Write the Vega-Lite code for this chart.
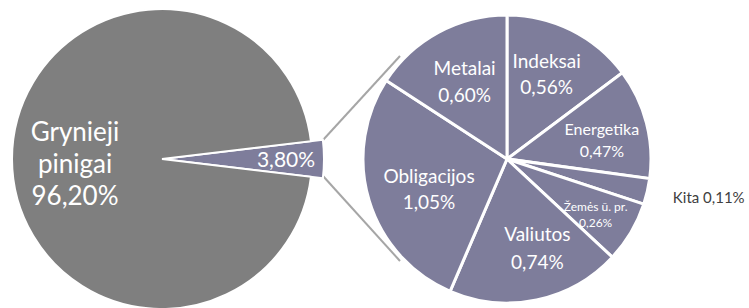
{
  "$schema": "https://vega.github.io/schema/vega-lite/v6.json",
  "width": 749,
  "height": 308,
  "autosize": {"type": "none"},
  "padding": 0,
  "background": "#ffffff",
  "config": {"view": {"stroke": null}, "font": "Lato"},
  "resolve": {"scale": {"x": "independent", "y": "independent", "theta": "independent"}},
  "layer": [
    {
      "data": {"values": [
        {"linija": "viršutinė", "x": 323, "y": 140},
        {"linija": "viršutinė", "x": 400, "y": 56},
        {"linija": "apatinė", "x": 323, "y": 176},
        {"linija": "apatinė", "x": 400, "y": 261}
      ]},
      "mark": {"type": "line", "color": "#a6a6a6", "strokeWidth": 2},
      "encoding": {
        "x": {"field": "x", "type": "quantitative", "scale": {"domain": [0, 749], "nice": false, "zero": false}, "axis": null},
        "y": {"field": "y", "type": "quantitative", "scale": {"domain": [0, 308], "nice": false, "zero": false, "reverse": true}, "axis": null},
        "detail": {"field": "linija"}
      }
    },
    {
      "data": {"values": [
        {"diagrama": "Visas portfelis", "kategorija": "Kita", "reiksme": 3.80, "tekstas": "3,80%", "eile": 1},
        {"diagrama": "Visas portfelis", "kategorija": "Grynieji pinigai", "reiksme": 96.20, "tekstas": "Grynieji\npinigai\n96,20%", "eile": 2}
      ]},
      "encoding": {
        "x": {"field": "diagrama", "type": "nominal", "scale": {"type": "point", "domain": ["Visas portfelis", "Kita"], "range": [162, 507], "padding": 0}, "axis": null},
        "y": {"field": "diagrama", "type": "nominal", "scale": {"type": "point", "domain": ["Visas portfelis", "Kita"], "range": [159, 159], "padding": 0}, "axis": null},
        "theta": {"field": "reiksme", "type": "quantitative", "stack": true, "scale": {"domain": [0, 100], "range": [1.4514, 7.7346]}},
        "order": {"field": "eile"},
        "detail": {"field": "kategorija"}
      },
      "layer": [
        {
          "mark": {"type": "arc", "outerRadius": 162, "fill": "#7e7d9b", "stroke": "#ffffff", "strokeWidth": 2},
          "encoding": {"opacity": {"condition": {"test": "datum.kategorija === 'Kita'", "value": 1}, "value": 0}}
        },
        {
          "mark": {"type": "arc", "outerRadius": 150, "fill": "#7f7f7f", "stroke": "#ffffff", "strokeWidth": 2},
          "encoding": {"opacity": {"condition": {"test": "datum.kategorija === 'Grynieji pinigai'", "value": 1}, "value": 0}}
        },
        {
          "mark": {"type": "text", "radius": 87, "fontSize": 26, "lineHeight": 32, "lineBreak": "\n", "color": "#ffffff", "align": "center", "baseline": "middle", "dy": -26},
          "encoding": {"text": {"condition": {"test": "datum.kategorija === 'Grynieji pinigai'", "field": "tekstas", "type": "nominal"}, "value": ""}}
        },
        {
          "mark": {"type": "text", "radius": 124, "fontSize": 21, "color": "#ffffff", "align": "center", "baseline": "middle", "dy": 2},
          "encoding": {"text": {"condition": {"test": "datum.kategorija === 'Kita'", "field": "tekstas", "type": "nominal"}, "value": ""}}
        }
      ]
    },
    {
      "data": {"values": [
        {"diagrama": "Kita", "kategorija": "Indeksai", "reiksme": 0.56, "tekstas": "Indeksai\n0,56%", "eile": 1},
        {"diagrama": "Kita", "kategorija": "Energetika", "reiksme": 0.47, "tekstas": "Energetika\n0,47%", "eile": 2},
        {"diagrama": "Kita", "kategorija": "Kita", "reiksme": 0.11, "tekstas": "Kita 0,11%", "eile": 3},
        {"diagrama": "Kita", "kategorija": "Žemės ū. pr.", "reiksme": 0.26, "tekstas": "Žemės ū. pr.\n0,26%", "eile": 4},
        {"diagrama": "Kita", "kategorija": "Valiutos", "reiksme": 0.74, "tekstas": "Valiutos\n0,74%", "eile": 5},
        {"diagrama": "Kita", "kategorija": "Obligacijos", "reiksme": 1.05, "tekstas": "Obligacijos\n1,05%", "eile": 6},
        {"diagrama": "Kita", "kategorija": "Metalai", "reiksme": 0.60, "tekstas": "Metalai\n0,60%", "eile": 7}
      ]},
      "encoding": {
        "x": {"field": "diagrama", "type": "nominal", "scale": {"type": "point", "domain": ["Visas portfelis", "Kita"], "range": [162, 507], "padding": 0}, "axis": null},
        "y": {"field": "diagrama", "type": "nominal", "scale": {"type": "point", "domain": ["Visas portfelis", "Kita"], "range": [159, 159], "padding": 0}, "axis": null},
        "theta": {"field": "reiksme", "type": "quantitative", "stack": true, "scale": {"domain": [0, 3.79], "range": [0, 6.28319]}},
        "order": {"field": "eile"},
        "detail": {"field": "kategorija"}
      },
      "layer": [
        {
          "mark": {"type": "arc", "outerRadius": 144, "fill": "#7e7d9b", "stroke": "#ffffff", "strokeWidth": 3}
        },
        {
          "mark": {"type": "text", "radius": 93, "fontSize": 19, "lineHeight": 27, "lineBreak": "\n", "color": "#ffffff", "align": "center", "baseline": "middle", "dx": 2, "dy": -8},
          "encoding": {"text": {"condition": {"test": "datum.kategorija === 'Metalai'", "field": "tekstas", "type": "nominal"}, "value": ""}}
        },
        {
          "mark": {"type": "text", "radius": 93, "fontSize": 19, "lineHeight": 26, "lineBreak": "\n", "color": "#ffffff", "align": "center", "baseline": "middle", "dx": -2, "dy": -14},
          "encoding": {"text": {"condition": {"test": "datum.kategorija === 'Indeksai'", "field": "tekstas", "type": "nominal"}, "value": ""}}
        },
        {
          "mark": {"type": "text", "radius": 93, "fontSize": 19, "lineHeight": 26, "lineBreak": "\n", "color": "#ffffff", "align": "center", "baseline": "middle", "dx": 11, "dy": -9},
          "encoding": {"text": {"condition": {"test": "datum.kategorija === 'Obligacijos'", "field": "tekstas", "type": "nominal"}, "value": ""}}
        },
        {
          "mark": {"type": "text", "radius": 94, "fontSize": 19, "lineHeight": 28, "lineBreak": "\n", "color": "#ffffff", "align": "center", "baseline": "middle", "dx": 11, "dy": -16},
          "encoding": {"text": {"condition": {"test": "datum.kategorija === 'Valiutos'", "field": "tekstas", "type": "nominal"}, "value": ""}}
        },
        {
          "mark": {"type": "text", "radius": 98, "fontSize": 16, "lineHeight": 22, "lineBreak": "\n", "color": "#ffffff", "align": "center", "baseline": "middle", "dy": -4},
          "encoding": {"text": {"condition": {"test": "datum.kategorija === 'Energetika'", "field": "tekstas", "type": "nominal"}, "value": ""}}
        },
        {
          "mark": {"type": "text", "radius": 103, "fontSize": 12, "lineHeight": 16, "lineBreak": "\n", "color": "#ffffff", "align": "center", "baseline": "middle", "dy": -4},
          "encoding": {"text": {"condition": {"test": "datum.kategorija === 'Žemės ū. pr.'", "field": "tekstas", "type": "nominal"}, "value": ""}}
        },
        {
          "mark": {"type": "text", "radius": 203, "fontSize": 15, "color": "#404040", "align": "center", "baseline": "middle", "dx": 4, "dy": -7},
          "encoding": {"text": {"condition": {"test": "datum.kategorija === 'Kita'", "field": "tekstas", "type": "nominal"}, "value": ""}}
        }
      ]
    }
  ]
}
